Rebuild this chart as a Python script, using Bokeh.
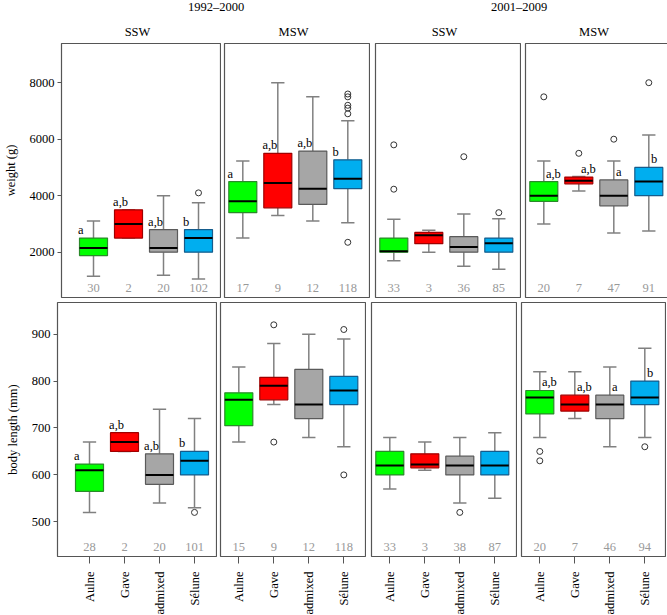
import math
import numpy as np
from bokeh.plotting import figure
from bokeh.layouts import row, column
from bokeh.models import Range1d, FixedTicker, ColumnDataSource
from bokeh.core.properties import value
from bokeh.embed import file_html
from bokeh.resources import INLINE

# ---------------- data ----------------
categories = ["Aulne", "Gave", "admixed", "Sélune"]
periods = ["1992–2000", "2001–2009"]
sea_ages = ["SSW", "MSW"]

# box stats per category: [lower whisker, Q1, median, Q3, upper whisker]
w_9200_ssw = [[1150, 1880, 2150, 2500, 3100], [2500, 2500, 3000, 3500, 3500],
              [1180, 2000, 2150, 2800, 4000], [1050, 2000, 2500, 2800, 3750]]
w_9200_ssw_out = [[], [], [], [4100]]
w_9200_ssw_n = [30, 2, 20, 102]
w_9200_ssw_sig = ["a", "a,b", "a,b", "b"]

w_9200_msw = [[2500, 3400, 3800, 4500, 5230], [3300, 3570, 4450, 5500, 8000],
              [3100, 3690, 4250, 5580, 7500], [3040, 4250, 4600, 5270, 6650]]
w_9200_msw_out = [[], [], [], [2350, 6900, 7100, 7200, 7500, 7600]]
w_9200_msw_n = [17, 9, 12, 118]
w_9200_msw_sig = ["a", "a,b", "a,b", "b"]

w_0109_ssw = [[1700, 2000, 2030, 2500, 3170], [2000, 2300, 2600, 2700, 2780],
              [1500, 2000, 2180, 2550, 3350], [1400, 2000, 2320, 2500, 3180]]
w_0109_ssw_out = [[4230, 5800], [], [5380], [3400]]
w_0109_ssw_n = [33, 3, 36, 85]
w_0109_ssw_sig = ["", "", "", ""]

w_0109_msw = [[3000, 3800, 4000, 4500, 5230], [4170, 4420, 4530, 4660, 4680],
              [2680, 3640, 4000, 4560, 5230], [2750, 4000, 4500, 5000, 6150]]
w_0109_msw_out = [[7500], [5500], [6000], [8000]]
w_0109_msw_n = [20, 7, 47, 91]
w_0109_msw_sig = ["a,b", "a,b", "a", "b"]

l_9200_ssw = [[520, 565, 610, 623, 670], [650, 650, 670, 690, 690],
              [540, 580, 600, 645, 740], [530, 600, 630, 650, 720]]
l_9200_ssw_out = [[], [], [], [520]]
l_9200_ssw_n = [28, 2, 20, 101]
l_9200_ssw_sig = ["a", "a,b", "a,b", "b"]

l_9200_msw = [[670, 705, 760, 775, 830], [750, 760, 790, 808, 880],
              [680, 720, 750, 825, 900], [660, 750, 780, 810, 890]]
l_9200_msw_out = [[], [670, 920], [], [600, 910]]
l_9200_msw_n = [15, 9, 12, 118]
l_9200_msw_sig = ["", "", "", ""]

l_0109_ssw = [[570, 600, 620, 650, 680], [610, 615, 622, 645, 670],
              [540, 600, 620, 640, 680], [550, 600, 620, 650, 690]]
l_0109_ssw_out = [[], [], [520], []]
l_0109_ssw_n = [33, 3, 38, 87]
l_0109_ssw_sig = ["", "", "", ""]

l_0109_msw = [[680, 730, 765, 780, 820], [720, 736, 750, 770, 820],
              [660, 720, 750, 770, 830], [680, 750, 765, 800, 870]]
l_0109_msw_out = [[630, 650], [], [], [660]]
l_0109_msw_n = [20, 7, 46, 94]
l_0109_msw_sig = ["a,b", "a,b", "a", "b"]

weight_ticks = [2000, 4000, 6000, 8000]
length_ticks = [500, 600, 700, 800, 900]
row_labels = ["weight (g)", "body length (mm)"]

# ---------------- style / layout ----------------
FONT = "Liberation Serif"
FS = "12.5px"
FILLS = ["#00ff00", "#ff0000", "#a6a6a6", "#00aeef"]
EDGES = ["#2a8a2a", "#a00000", "#5a5a5a", "#155c8c"]
WHISK = "#808080"
FRAME = "#555555"

LEFT = 57
GAPS = [0, 3, 5, 4]
PW = [160, 146, 146, 145]
HEADER_H = 43
FRAME_H = 254
UNIT = 35.0
X_START = 0.477
X_END = 4.657
Y_RANGES = [(396, 9388), (426, 967.6)]


def make_panel(col, r, stats, outs, ns, sig, sig_mode, ticks):
    first = col == 0
    bottom = r == 1
    if first:
        xr = Range1d(X_END - PW[col] / UNIT, X_END)
    else:
        xr = Range1d(X_START, X_START + PW[col] / UNIT)
    p = figure(frame_width=PW[col], frame_height=FRAME_H,
               output_backend="svg", toolbar_location=None,
               x_range=xr, y_range=Range1d(*Y_RANGES[r]),
               x_axis_location="below" if bottom else None,
               y_axis_location="left" if first else None,
               min_border_left=LEFT if first else GAPS[col], min_border_right=0,
               min_border_top=0 if r == 0 else 3,
               min_border_bottom=2 if r == 0 else 58)
    p.grid.visible = False
    p.outline_line_color = FRAME
    p.outline_line_width = 1.2
    p.background_fill_color = "white"
    p.border_fill_color = "white"

    pos = np.arange(1, len(categories) + 1, dtype=float)
    lo = [s[0] for s in stats]
    q1 = [s[1] for s in stats]
    med = [s[2] for s in stats]
    q3 = [s[3] for s in stats]
    hi = [s[4] for s in stats]

    p.segment(x0=pos, y0=q3, x1=pos, y1=hi, line_color=WHISK, line_width=1.5)
    p.segment(x0=pos, y0=q1, x1=pos, y1=lo, line_color=WHISK, line_width=1.5)
    p.segment(x0=pos - 0.19, y0=hi, x1=pos + 0.19, y1=hi, line_color=WHISK, line_width=1.5)
    p.segment(x0=pos - 0.19, y0=lo, x1=pos + 0.19, y1=lo, line_color=WHISK, line_width=1.5)

    src = ColumnDataSource(dict(x=pos, q1=q1, q3=q3, fill=FILLS, edge=EDGES))
    p.vbar(x="x", width=0.8, bottom="q1", top="q3", fill_color="fill",
           line_color="edge", line_width=1.2, source=src)
    p.segment(x0=pos - 0.4, y0=med, x1=pos + 0.4, y1=med, line_color="black", line_width=2)

    ox = [pos[i] for i, vals in enumerate(outs) for _ in vals]
    oy = [v for vals in outs for v in vals]
    if ox:
        p.scatter(x=ox, y=oy, marker="circle", size=6, fill_color=None,
                  line_color="#333333", line_width=1)

    y0, y1 = Y_RANGES[r]
    yc = y0 + (y1 - y0) * 10 / FRAME_H
    p.text(x=pos, y=[yc] * len(pos), text=[str(n) for n in ns],
           text_font=value(FONT), text_font_size=FS, text_color="#999999",
           text_align="center", text_baseline="middle")

    if any(sig):
        dx = -0.44 if sig_mode == "left" else 0.06
        p.text(x=pos + dx, y=q3, text=sig, text_font=value(FONT), text_font_size=FS,
               text_color="black", text_align="left", text_baseline="middle",
               y_offset=-8)

    if first:
        ax = p.yaxis[0]
        ax.ticker = FixedTicker(ticks=ticks)
        ax.axis_label = row_labels[r]
        ax.axis_label_text_font = FONT
        ax.axis_label_text_font_size = FS
        ax.axis_label_text_font_style = "normal"
        ax.axis_label_text_color = "black"
        ax.axis_label_standoff = 9
        ax.major_label_text_font = FONT
        ax.major_label_text_font_size = FS
        ax.major_label_text_color = "black"
        ax.major_label_standoff = 3
        ax.axis_line_color = None
        ax.major_tick_out = 4
        ax.major_tick_in = 0
        ax.major_tick_line_color = FRAME
        ax.minor_tick_out = 0
        ax.minor_tick_in = 0
    if bottom:
        ax = p.xaxis[0]
        ax.ticker = FixedTicker(ticks=list(pos))
        ax.major_label_overrides = {i + 1: c for i, c in enumerate(categories)}
        ax.major_label_orientation = math.pi / 2
        ax.major_label_text_font = FONT
        ax.major_label_text_font_size = FS
        ax.major_label_text_color = "black"
        ax.major_label_standoff = 8
        ax.axis_line_color = None
        ax.major_tick_out = 7
        ax.major_tick_in = 0
        ax.major_tick_line_color = FRAME
        ax.minor_tick_out = 0
        ax.minor_tick_in = 0
    return p


panels = [
    [(w_9200_ssw, w_9200_ssw_out, w_9200_ssw_n, w_9200_ssw_sig, "left"),
     (w_9200_msw, w_9200_msw_out, w_9200_msw_n, w_9200_msw_sig, "left"),
     (w_0109_ssw, w_0109_ssw_out, w_0109_ssw_n, w_0109_ssw_sig, "left"),
     (w_0109_msw, w_0109_msw_out, w_0109_msw_n, w_0109_msw_sig, "center")],
    [(l_9200_ssw, l_9200_ssw_out, l_9200_ssw_n, l_9200_ssw_sig, "left"),
     (l_9200_msw, l_9200_msw_out, l_9200_msw_n, l_9200_msw_sig, "left"),
     (l_0109_ssw, l_0109_ssw_out, l_0109_ssw_n, l_0109_ssw_sig, "left"),
     (l_0109_msw, l_0109_msw_out, l_0109_msw_n, l_0109_msw_sig, "center")],
]
row_ticks = [weight_ticks, length_ticks]

rows = []
for r in range(2):
    figs = [make_panel(c, r, *panels[r][c], row_ticks[r]) for c in range(4)]
    rows.append(row(*figs, spacing=0))

# header with period and sea-age titles
total_w = LEFT + sum(PW) + sum(GAPS)
lefts = []
x = 0
for c in range(4):
    x += (LEFT if c == 0 else GAPS[c])
    lefts.append(x)
    x += PW[c]
centers = [lefts[c] + PW[c] / 2 for c in range(4)]

hdr = figure(width=total_w, height=HEADER_H, output_backend="svg", toolbar_location=None,
             x_range=Range1d(0, total_w), y_range=Range1d(HEADER_H, 0),
             x_axis_location=None, y_axis_location=None,
             min_border_left=0, min_border_right=0, min_border_top=0, min_border_bottom=0)
hdr.grid.visible = False
hdr.outline_line_color = None
hdr.background_fill_color = "white"
hdr.border_fill_color = "white"
g1 = (lefts[0] + lefts[1] + PW[1]) / 2 + 4
g2 = (lefts[2] + lefts[3] + PW[3]) / 2
hdr.text(x=[g1, g2], y=[6.5, 6.5], text=periods, text_font=value(FONT), text_font_size=FS,
         text_color="black", text_align="center", text_baseline="middle")
hdr.text(x=centers, y=[31.3] * 4, text=sea_ages * 2, text_font=value(FONT), text_font_size=FS,
         text_color="black", text_align="center", text_baseline="middle")

layout = column(hdr, rows[0], rows[1], spacing=0)

with open("out.html", "w") as f:
    f.write(file_html(layout, INLINE))
